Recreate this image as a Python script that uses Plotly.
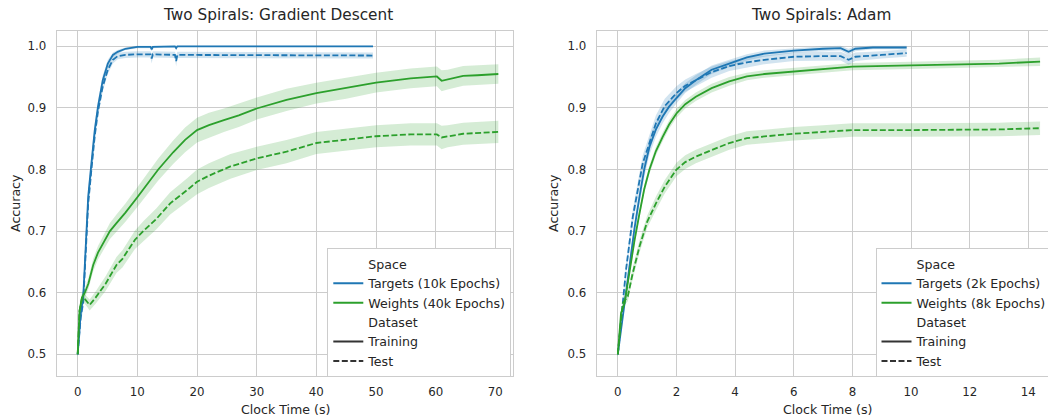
import plotly.graph_objects as go

# ---------------- data ----------------
# Left panel: Gradient Descent
gd_targets_x = [0, 0.5, 0.93, 1.5, 1.76, 2.3, 2.86, 3.4, 4.2, 5.05, 5.9, 6.7, 8, 10, 12.2, 12.4, 12.6, 16.3, 16.5, 16.7, 20, 30, 40, 49.5]
gd_targets_train = [0.50, 0.565, 0.594, 0.702, 0.756, 0.81, 0.864, 0.902, 0.945, 0.972, 0.986, 0.991, 0.996, 0.999, 0.999, 0.995, 0.999, 1.0, 0.997, 1.0, 1.0, 1.0, 1.0, 1.0]
gd_targets_test = [0.50, 0.56, 0.585, 0.69, 0.745, 0.80, 0.855, 0.895, 0.935, 0.962, 0.978, 0.984, 0.986, 0.987, 0.987, 0.980, 0.987, 0.986, 0.976, 0.986, 0.986, 0.986, 0.985, 0.985]
gd_targets_train_ci = [0.004, 0.01, 0.012, 0.014, 0.014, 0.014, 0.012, 0.01, 0.008, 0.006, 0.004, 0.003, 0.002, 0.002, 0.002, 0.004, 0.002, 0.001, 0.003, 0.001, 0.001, 0.001, 0.001, 0.001]
gd_targets_test_ci = [0.004, 0.01, 0.012, 0.014, 0.014, 0.014, 0.012, 0.01, 0.008, 0.007, 0.006, 0.005, 0.005, 0.005, 0.005, 0.008, 0.005, 0.005, 0.009, 0.005, 0.005, 0.005, 0.005, 0.005]

gd_weights_train_x = [0, 0.3, 0.7, 1.2, 1.8, 2.6, 3.4, 4.5, 5.4, 6.5, 8, 10, 12, 13.5, 16, 18, 20, 22, 24.5, 27, 30, 35, 40, 45, 50, 55.8, 60.2, 61, 62, 64.6, 67, 70.5]
gd_weights_train = [0.50, 0.57, 0.592, 0.60, 0.615, 0.645, 0.665, 0.685, 0.70, 0.713, 0.73, 0.755, 0.78, 0.80, 0.828, 0.848, 0.864, 0.872, 0.880, 0.888, 0.899, 0.913, 0.924, 0.932, 0.941, 0.948, 0.951, 0.944, 0.946, 0.952, 0.953, 0.955]
gd_weights_train_ci = [0.004, 0.006, 0.007, 0.008, 0.009, 0.01, 0.011, 0.012, 0.013, 0.014, 0.015, 0.016, 0.017, 0.018, 0.019, 0.02, 0.02, 0.02, 0.019, 0.019, 0.018, 0.018, 0.017, 0.017, 0.016, 0.016, 0.016, 0.017, 0.016, 0.016, 0.016, 0.016]

gd_weights_test_x = [0, 0.3, 0.7, 1.0, 1.6, 2.0, 3.0, 4.7, 6.5, 7.5, 9.6, 11, 13.2, 15.5, 18.4, 20, 22, 25.6, 30, 35, 40, 44.8, 50, 55.8, 60.2, 61, 62, 64.6, 70.5]
gd_weights_test = [0.50, 0.57, 0.59, 0.592, 0.585, 0.58, 0.592, 0.615, 0.645, 0.655, 0.686, 0.70, 0.72, 0.745, 0.767, 0.78, 0.79, 0.805, 0.818, 0.829, 0.843, 0.848, 0.854, 0.857, 0.857, 0.852, 0.854, 0.858, 0.861]
gd_weights_test_ci = [0.004, 0.006, 0.007, 0.008, 0.008, 0.009, 0.01, 0.012, 0.013, 0.014, 0.015, 0.016, 0.017, 0.018, 0.019, 0.02, 0.02, 0.02, 0.019, 0.019, 0.018, 0.018, 0.018, 0.018, 0.018, 0.019, 0.018, 0.018, 0.018]

# Right panel: Adam
adam_targets_train_x = [0, 0.23, 0.4, 0.57, 0.74, 0.9, 1.08, 1.3, 1.53, 1.75, 2.0, 2.3, 2.66, 3.2, 3.8, 4.4, 5.0, 6.0, 7.0, 7.6, 7.87, 8.1, 8.7, 9.85]
adam_targets_train = [0.50, 0.583, 0.648, 0.705, 0.756, 0.80, 0.837, 0.865, 0.886, 0.902, 0.916, 0.932, 0.945, 0.962, 0.972, 0.982, 0.988, 0.993, 0.996, 0.997, 0.991, 0.996, 0.998, 0.998]
adam_targets_train_ci = [0.004, 0.008, 0.01, 0.012, 0.013, 0.013, 0.013, 0.012, 0.011, 0.01, 0.009, 0.008, 0.008, 0.007, 0.006, 0.005, 0.005, 0.004, 0.004, 0.004, 0.005, 0.004, 0.003, 0.003]

adam_targets_test_x = [0, 0.15, 0.28, 0.51, 0.85, 1.3, 1.6, 2.0, 2.3, 2.66, 3.2, 3.8, 4.4, 5.0, 6.0, 7.0, 7.6, 7.87, 8.1, 9.0, 9.85]
adam_targets_test = [0.50, 0.57, 0.637, 0.723, 0.81, 0.875, 0.903, 0.924, 0.936, 0.945, 0.958, 0.968, 0.974, 0.978, 0.983, 0.984, 0.984, 0.978, 0.983, 0.986, 0.989]
adam_targets_test_ci = [0.004, 0.008, 0.01, 0.012, 0.013, 0.013, 0.012, 0.011, 0.01, 0.01, 0.009, 0.008, 0.008, 0.007, 0.007, 0.007, 0.007, 0.008, 0.007, 0.006, 0.006]

adam_weights_train_x = [0, 0.11, 0.23, 0.4, 0.57, 0.74, 0.9, 1.08, 1.3, 1.53, 1.75, 2.0, 2.3, 2.66, 3.2, 3.8, 4.4, 5.0, 6.0, 7.0, 8.0, 10.0, 12.0, 13.0, 14.4]
adam_weights_train = [0.50, 0.567, 0.583, 0.637, 0.685, 0.729, 0.768, 0.80, 0.83, 0.853, 0.873, 0.891, 0.906, 0.918, 0.932, 0.943, 0.951, 0.955, 0.959, 0.963, 0.967, 0.969, 0.971, 0.972, 0.975]
adam_weights_train_ci = [0.004, 0.005, 0.006, 0.007, 0.007, 0.007, 0.007, 0.007, 0.007, 0.007, 0.007, 0.007, 0.007, 0.007, 0.007, 0.007, 0.006, 0.006, 0.006, 0.006, 0.006, 0.006, 0.006, 0.006, 0.007]

adam_weights_test_x = [0, 0.17, 0.34, 0.5, 0.74, 1.0, 1.3, 1.6, 2.0, 2.3, 2.66, 3.2, 3.8, 4.4, 5.0, 6.0, 7.0, 8.0, 10.0, 12.0, 13.0, 14.4]
adam_weights_test = [0.50, 0.583, 0.594, 0.63, 0.675, 0.715, 0.745, 0.772, 0.80, 0.812, 0.821, 0.832, 0.843, 0.851, 0.854, 0.858, 0.861, 0.864, 0.864, 0.864, 0.865, 0.867]
adam_weights_test_ci = [0.004, 0.006, 0.008, 0.009, 0.01, 0.01, 0.011, 0.011, 0.011, 0.011, 0.011, 0.011, 0.011, 0.011, 0.011, 0.011, 0.011, 0.011, 0.011, 0.011, 0.011, 0.011]

panel_titles = ["Two Spirals: Gradient Descent", "Two Spirals: Adam"]
gd_labels = ["Targets (10k Epochs)", "Weights (40k Epochs)"]
adam_labels = ["Targets (2k Epochs)", "Weights (8k Epochs)"]
dataset_labels = ["Training", "Test"]
x_label = "Clock Time (s)"
y_label = "Accuracy"

# ---------------- styling ----------------
BLUE = "#1f77b4"
GREEN = "#2ca02c"
BLUE_BAND = "rgba(31,119,180,0.2)"
GREEN_BAND = "rgba(44,160,44,0.2)"
TEXT = "#262626"
GRID = "#cccccc"
FONT = "DejaVu Sans"
W, H = 1048, 417
DASH = "6px,2.5px"

fig = go.Figure()


def add_series(xs, ys, ci, color, band, dashed, xa, ya):
    upper = [y + c for y, c in zip(ys, ci)]
    lower = [y - c for y, c in zip(ys, ci)]
    fig.add_trace(go.Scatter(x=xs, y=upper, mode="lines", line=dict(width=0, color=band),
                             showlegend=False, hoverinfo="skip", xaxis=xa, yaxis=ya))
    fig.add_trace(go.Scatter(x=xs, y=lower, mode="lines", line=dict(width=0, color=band),
                             fill="tonexty", fillcolor=band, showlegend=False,
                             hoverinfo="skip", xaxis=xa, yaxis=ya))
    fig.add_trace(go.Scatter(x=xs, y=ys, mode="lines",
                             line=dict(color=color, width=1.8, dash=DASH if dashed else "solid"),
                             showlegend=False, xaxis=xa, yaxis=ya))


add_series(gd_targets_x, gd_targets_train, gd_targets_train_ci, BLUE, BLUE_BAND, False, "x", "y")
add_series(gd_targets_x, gd_targets_test, gd_targets_test_ci, BLUE, BLUE_BAND, True, "x", "y")
add_series(gd_weights_train_x, gd_weights_train, gd_weights_train_ci, GREEN, GREEN_BAND, False, "x", "y")
add_series(gd_weights_test_x, gd_weights_test, gd_weights_test_ci, GREEN, GREEN_BAND, True, "x", "y")

add_series(adam_targets_train_x, adam_targets_train, adam_targets_train_ci, BLUE, BLUE_BAND, False, "x2", "y2")
add_series(adam_targets_test_x, adam_targets_test, adam_targets_test_ci, BLUE, BLUE_BAND, True, "x2", "y2")
add_series(adam_weights_train_x, adam_weights_train, adam_weights_train_ci, GREEN, GREEN_BAND, False, "x2", "y2")
add_series(adam_weights_test_x, adam_weights_test, adam_weights_test_ci, GREEN, GREEN_BAND, True, "x2", "y2")


def add_legend(labels, legend_id, xa, ya):
    entries = [
        ("Space", "rgba(0,0,0,0)", "solid"),
        (labels[0], BLUE, "solid"),
        (labels[1], GREEN, "solid"),
        ("Dataset", "rgba(0,0,0,0)", "solid"),
        (dataset_labels[0], "#333333", "solid"),
        (dataset_labels[1], "#333333", DASH),
    ]
    for name, col, dash in entries:
        fig.add_trace(go.Scatter(x=[None], y=[None], mode="lines", name=name,
                                 line=dict(color=col, width=2, dash=dash),
                                 legend=legend_id, xaxis=xa, yaxis=ya))


add_legend(gd_labels, "legend", "x", "y")
add_legend(adam_labels, "legend2", "x2", "y2")

YDOM = [1 - 376 / H, 1 - 30.7 / H]
YRANGE = [0.4648, 1.0253]
YTICKS = [0.5, 0.6, 0.7, 0.8, 0.9, 1.0]
YTICKTEXT = ["0.5", "0.6", "0.7", "0.8", "0.9", "1.0"]

axis_common = dict(showgrid=True, gridcolor=GRID, gridwidth=1, zeroline=False,
                   showline=True, linecolor=GRID, linewidth=1, automargin=False,
                   tickfont=dict(family=FONT, size=11.8, color=TEXT), ticks="")

legend_common = dict(bgcolor="white", bordercolor=GRID, borderwidth=1,
                     font=dict(family=FONT, size=12.6, color=TEXT), traceorder="normal",
                     tracegroupgap=0, xanchor="left", yanchor="top", itemwidth=30)

fig.update_layout(
    width=W, height=H,
    margin=dict(l=0, r=0, t=0, b=0, autoexpand=False),
    paper_bgcolor="white", plot_bgcolor="white",
    font=dict(family=FONT, color=TEXT),
    xaxis=dict(domain=[56.7 / W, 513.3 / W], range=[-3.52, 73.01], anchor="y",
               tickvals=[0, 10, 20, 30, 40, 50, 60, 70], mirror=True,
               ticklabelstandoff=5, **axis_common),
    yaxis=dict(domain=YDOM, range=YRANGE, anchor="x", tickvals=YTICKS,
               ticktext=YTICKTEXT, mirror=True, ticklabelstandoff=7, **axis_common),
    xaxis2=dict(domain=[596.7 / W, 1.0], range=[-0.72, 14.67], anchor="y2",
                tickvals=[0, 2, 4, 6, 8, 10, 12, 14], mirror=True,
                ticklabelstandoff=5, **axis_common),
    yaxis2=dict(domain=YDOM, range=YRANGE, anchor="x2", tickvals=YTICKS,
                ticktext=YTICKTEXT, mirror=False, ticklabelstandoff=7, **axis_common),
    legend=dict(x=327.3 / W, y=1 - 248.3 / H, **legend_common),
    legend2=dict(x=875.5 / W, y=1 - 248.3 / H, **legend_common),
)

for title, xc in zip(panel_titles, [277.8, 821.3]):
    fig.add_annotation(text=title, xref="paper", yref="paper", showarrow=False,
                       x=xc / W, y=1 - 15 / H, xanchor="center", yanchor="middle",
                       font=dict(family=FONT, size=15.3, color=TEXT))

for xc in [285, 827.8]:
    fig.add_annotation(text=x_label, xref="paper", yref="paper", showarrow=False,
                       x=xc / W, y=1 - 409 / H, xanchor="center", yanchor="middle",
                       font=dict(family=FONT, size=12.6, color=TEXT))
for xc in [15, 553]:
    fig.add_annotation(text=y_label, xref="paper", yref="paper", showarrow=False,
                       x=xc / W, y=1 - 203 / H, xanchor="center", yanchor="middle",
                       textangle=-90, font=dict(family=FONT, size=12.6, color=TEXT))

fig.write_html("out.html", config={"displayModeBar": False},
               post_script="document.body.style.margin='0';document.body.style.overflow='hidden';")
